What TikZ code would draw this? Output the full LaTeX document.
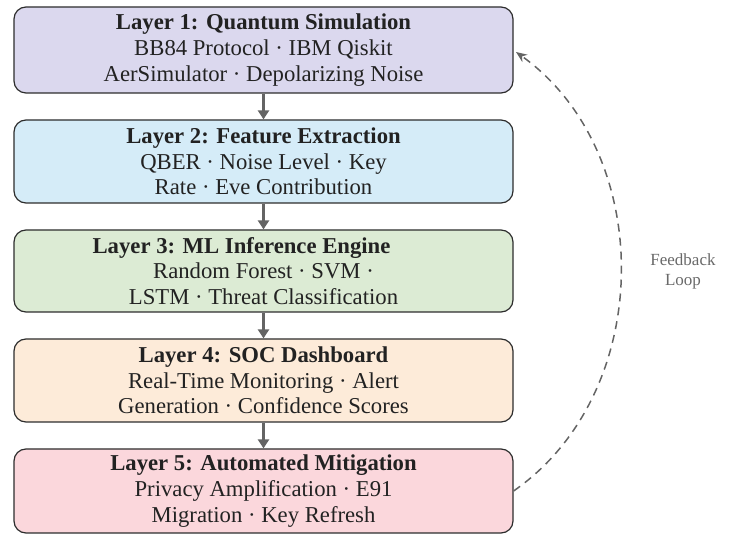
\documentclass[tikz,border=0pt]{standalone}
\usepackage{fontspec}
\setmainfont{Liberation Serif}
\usetikzlibrary{arrows.meta}
\definecolor{cA}{RGB}{219,216,238}
\definecolor{cB}{RGB}{213,236,248}
\definecolor{cC}{RGB}{220,235,212}
\definecolor{cD}{RGB}{253,235,217}
\definecolor{cE}{RGB}{251,215,220}
\definecolor{boxline}{RGB}{45,45,45}
\definecolor{arrowc}{RGB}{100,100,100}
\definecolor{textc}{RGB}{34,34,34}
\definecolor{fbtext}{RGB}{105,105,105}
\begin{document}
\begin{tikzpicture}[x=1pt,y=-1pt,
  layer/.style={draw=boxline, line width=1.2pt, rounded corners=12pt,
    minimum width=499pt, align=center, inner sep=0pt, text=textc,
    font=\fontsize{22.7}{25.6}\selectfont},
  flow/.style={draw=arrowc, line width=3pt, -{Triangle[length=9pt,width=11pt]}},
  fb/.style={draw=arrowc, line width=1.5pt, dash pattern=on 8pt off 6pt,
    -{Stealth[length=11pt,width=9pt]}},
  fblabel/.style={text=fbtext, align=center, font=\fontsize{17}{20}\selectfont}]
\useasboundingbox (0,0) rectangle (732,534);
\node[layer, fill=cA, minimum height=86pt] (l1) at (263.5,50)
  {\textbf{Layer 1: Quantum Simulation}\\BB84 Protocol · IBM Qiskit\\AerSimulator · Depolarizing Noise};
\node[layer, fill=cB, minimum height=83pt] (l2) at (263.5,161.5)
  {\textbf{Layer 2: Feature Extraction}\\QBER · Noise Level · Key\\Rate · Eve Contribution};
\node[layer, fill=cC, minimum height=82pt] (l3) at (263.5,271)
  {\textbf{Layer 3: ML Inference Engine}\hspace*{44pt}\\Random Forest · SVM ·\\LSTM · Threat Classification};
\node[layer, fill=cD, minimum height=83pt] (l4) at (263.5,380.5)
  {\textbf{Layer 4: SOC Dashboard}\\Real-Time Monitoring · Alert\\Generation · Confidence Scores};
\node[layer, fill=cE, minimum height=84pt] (l5) at (263.5,491)
  {\textbf{Layer 5: Automated Mitigation}\\Privacy Amplification · E91\\Migration · Key Refresh};
\draw[flow] (l1.south) -- (l2.north);
\draw[flow] (l2.south) -- (l3.north);
\draw[flow] (l3.south) -- (l4.north);
\draw[flow] (l4.south) -- (l5.north);
\coordinate (fbend) at (516,52);
\draw[fb] (l5.east) .. controls (656,392) and (656,152) .. (fbend);
\node[fblabel] (fbl) at (683,271) {Feedback\\Loop};
\end{tikzpicture}
\end{document}
